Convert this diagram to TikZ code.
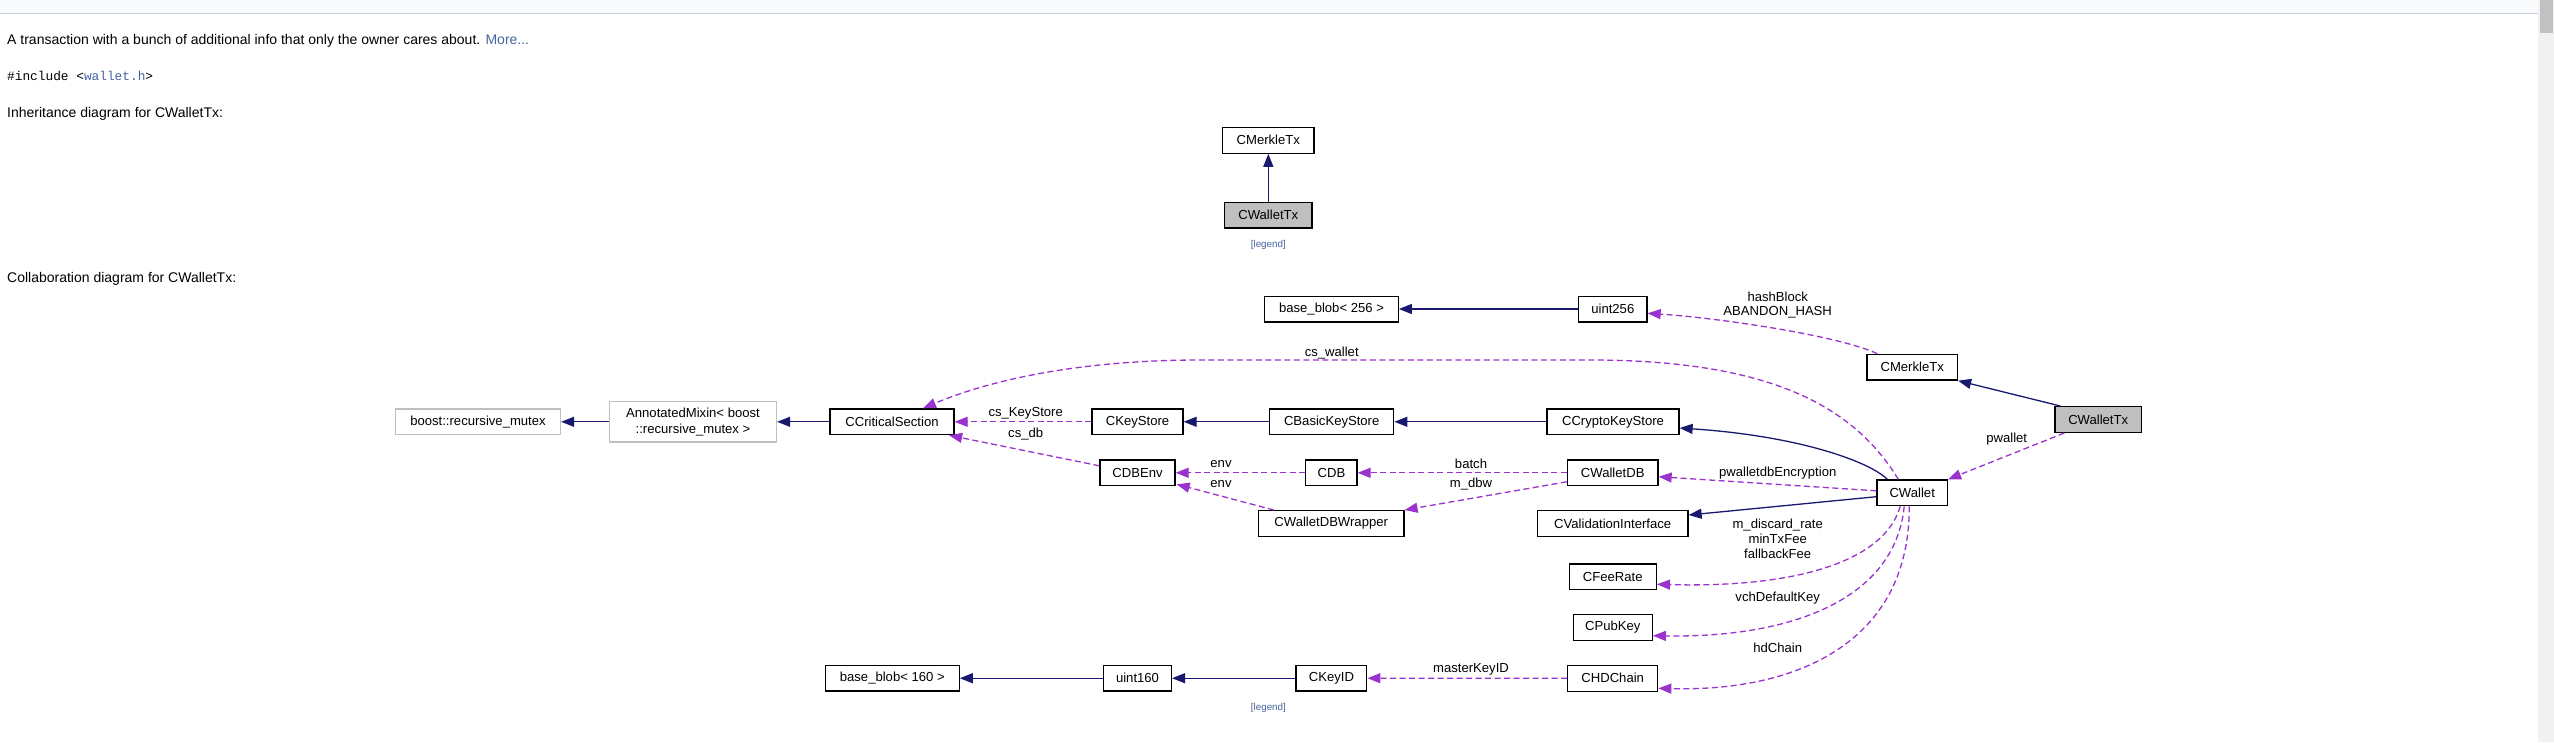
\documentclass[tikz,border=0pt]{standalone}
\usepackage{fontspec}
\setmainfont{Liberation Sans}
\setmonofont{Liberation Mono}
\usetikzlibrary{arrows.meta}
\definecolor{navy}{HTML}{191970}
\definecolor{orch}{HTML}{9A32CD}
\definecolor{gborder}{HTML}{BFBFBF}
\definecolor{linkc}{HTML}{4665A2}
\definecolor{bandfill}{HTML}{F9FAFC}
\definecolor{bandline}{HTML}{C8D0DE}
\definecolor{track}{HTML}{F1F1F1}
\definecolor{thumb}{HTML}{C1C1C1}
\definecolor{wgray}{HTML}{BFBFBF}
\tikzset{
  cls/.style={draw=black, fill=white, line width=1.3pt, inner sep=0pt, minimum height=25.7pt,
    font=\fontsize{13.1}{16}\selectfont, align=center},
  extcls/.style={cls, draw=gborder},
  selfcls/.style={cls, fill=wgray},
  inhedge/.style={draw=navy, line width=1.3pt, -{Triangle[length=13pt,width=10pt]}},
  usedge/.style={draw=orch, line width=1.3pt, dash pattern=on 6pt off 3.5pt, -{Triangle[length=13pt,width=10pt]}},
  lbl/.style={inner sep=0pt, font=\fontsize{13.1}{14.8}\selectfont, align=center},
  lgd/.style={inner sep=0pt, font=\fontsize{9.8}{11}\selectfont, text=linkc},
  hdr/.style={inner sep=0pt, anchor=base west, font=\fontsize{14}{17}\selectfont},
}
\begin{document}
\begin{tikzpicture}[x=1pt,y=-1pt]
\useasboundingbox (0,0) rectangle (2554,742);
\fill[white] (0,0) rectangle (2554,742);
% top band and scrollbar
\fill[bandfill] (0,0) rectangle (2538,13);
\draw[bandline, line width=1.5pt] (0,13.5) -- (2538,13.5);
\fill[track] (2538,0) rectangle (2554,742);
\fill[thumb] (2540,0) rectangle (2553,32.7);

% header texts
\node[hdr] (t1) at (7,44) {A transaction with a bunch of additional info that only the owner cares about. \textcolor{linkc}{More...}};
\node[hdr, font=\ttfamily\fontsize{12.8}{16}\selectfont] (t2) at (7,80) {\#include <\textcolor{linkc}{wallet.h}>};
\node[hdr] (t3) at (7,117) {Inheritance diagram for CWalletTx:};
\node[hdr] (t4) at (7,282) {Collaboration diagram for CWalletTx:};

% inheritance diagram
\node[cls, minimum width=91.3pt] (imerkle) at (1268.3,140.3) {CMerkleTx};
\node[selfcls, minimum width=87.3pt] (iwallettx) at (1268.3,215.2) {CWalletTx};
\draw[inhedge] (iwallettx) -- (imerkle);
\node[lgd] (lgd1) at (1268.3,245) {[legend]};

% collaboration diagram nodes
\node[extcls, minimum width=165pt] (boostmutex) at (478,421.8) {boost::recursive\_mutex};
\node[extcls, minimum width=167pt, minimum height=40.3pt, font=\fontsize{13.1}{16}\selectfont] (annot) at (693,421.8) {AnnotatedMixin< boost\\::recursive\_mutex >};
\node[cls, minimum width=124pt] (ccs) at (892,421.8) {CCriticalSection};
\node[cls, minimum width=91pt] (ckeystore) at (1137.5,421.8) {CKeyStore};
\node[cls, minimum width=124pt] (cbasic) at (1331.7,421.8) {CBasicKeyStore};
\node[cls, minimum width=132pt] (ccrypto) at (1613,421.8) {CCryptoKeyStore};
\node[cls, minimum width=133.5pt] (bb256) at (1331.5,309) {base\_blob< 256 >};
\node[cls, minimum width=68.4pt] (uint256) at (1612.8,309) {uint256};
\node[cls, minimum width=90.5pt] (cmerkle) at (1912.2,367.2) {CMerkleTx};
\node[selfcls, minimum width=86.5pt] (cwallettx) at (2098.2,419.5) {CWalletTx};
\node[cls, minimum width=70.5pt] (cwallet) at (1912.2,492.8) {CWallet};
\node[cls, minimum width=75pt] (cdbenv) at (1137.5,472.8) {CDBEnv};
\node[cls, minimum width=51.2pt] (cdb) at (1331.4,472.8) {CDB};
\node[cls, minimum width=90.6pt] (cwalletdb) at (1612.7,472.8) {CWalletDB};
\node[cls, minimum width=145.5pt] (cwdbw) at (1331.2,523.5) {CWalletDBWrapper};
\node[cls, minimum width=150.6pt] (cvalid) at (1612.7,523.5) {CValidationInterface};
\node[cls, minimum width=87pt] (cfeerate) at (1612.8,576.7) {CFeeRate};
\node[cls, minimum width=79pt] (cpubkey) at (1612.8,627.5) {CPubKey};
\node[cls, minimum width=90pt] (chdchain) at (1612.7,678.3) {CHDChain};
\node[cls, minimum width=70.8pt] (ckeyid) at (1331.4,678.2) {CKeyID};
\node[cls, minimum width=67.8pt] (uint160) at (1137.5,678.2) {uint160};
\node[cls, minimum width=133.7pt] (bb160) at (892.3,678.2) {base\_blob< 160 >};
\node[lgd] (lgd2) at (1268.4,708.3) {[legend]};

% inheritance edges
\draw[inhedge] (annot) -- (boostmutex);
\draw[inhedge] (ccs) -- (annot);
\draw[inhedge] (cbasic) -- (ckeystore);
\draw[inhedge] (ccrypto) -- (cbasic);
\draw[inhedge] (uint256) -- (bb256);
\draw[inhedge] ([xshift=6pt]cwallettx.north west) -- (cmerkle.south east);
\draw[inhedge] ([xshift=11pt]cwallet.north west) .. controls (1870,462) and (1800,436) .. ([yshift=-6.2pt]ccrypto.east);
\draw[inhedge] ([yshift=-3.9pt]cwallet.west) -- ([yshift=8.5pt]cvalid.east);
\draw[inhedge] (ckeyid) -- (uint160);
\draw[inhedge] (uint160) -- (bb160);

% usage edges
\draw[usedge] ([xshift=11pt]cmerkle.north west) .. controls (1840,336) and (1720,318) .. ([yshift=-4.3pt]uint256.east);
\node[lbl] (lhash) at (1777.7,305) {hashBlock\\ABANDON\_HASH};

\draw[usedge] ([xshift=22pt]cwallet.north west) .. controls (1850,400) and (1760,362) .. (1600,360)
  -- (1200,360) .. controls (1080,360) and (990,380) .. ([xshift=31pt]ccs.north);
\node[lbl] (lcsw) at (1331.7,352.7) {cs\_wallet};

\draw[usedge] (ckeystore) -- (ccs);
\node[lbl] (lcsks) at (1025.7,413.3) {cs\_KeyStore};

\draw[usedge] ([yshift=7pt]cdbenv.west) -- ([xshift=-5.5pt]ccs.south east);
\node[lbl] (lcsdb) at (1025.7,434) {cs\_db};

\draw[usedge] (cdb) -- (cdbenv);
\node[lbl] (lenv1) at (1221,464.3) {env};

\draw[usedge] ([xshift=16pt]cwdbw.north west) -- ([xshift=1pt,yshift=2pt]cdbenv.south east);
\node[lbl] (lenv2) at (1221,484.3) {env};

\draw[usedge] (cwalletdb) -- (cdb);
\node[lbl] (lbatch) at (1471,464.3) {batch};

\draw[usedge] ([yshift=-9pt]cwalletdb.west) -- (cwdbw.north east);
\node[lbl] (lmdbw) at (1471,484.3) {m\_dbw};

\draw[usedge] ([yshift=2pt]cwallet.west) -- ([yshift=-3.9pt]cwalletdb.east);
\node[lbl] (lpenc) at (1777.7,472.7) {pwalletdbEncryption};

\draw[usedge] ([xshift=10pt]cwallettx.south west) -- (cwallet.north east);
\node[lbl] (lpw) at (2006.7,439) {pwallet};

\draw[usedge] ([xshift=-12pt]cwallet.south) .. controls (1885,560) and (1800,588) .. ([yshift=-7.6pt]cfeerate.east);
\node[lbl] (lfee) at (1777.7,539) {m\_discard\_rate\\minTxFee\\fallbackFee};

\draw[usedge] ([xshift=-8pt]cwallet.south) .. controls (1895,600) and (1790,638) .. ([yshift=-8.2pt]cpubkey.east);
\node[lbl] (lvch) at (1777.7,597.7) {vchDefaultKey};

\draw[usedge] ([xshift=-3pt]cwallet.south) .. controls (1910,640) and (1800,692) .. ([yshift=-10pt]chdchain.east);
\node[lbl] (lhd) at (1777.7,648.3) {hdChain};

\draw[usedge] (chdchain) -- (ckeyid);
\node[lbl] (lmk) at (1471,669.3) {masterKeyID};
\end{tikzpicture}
\end{document}
